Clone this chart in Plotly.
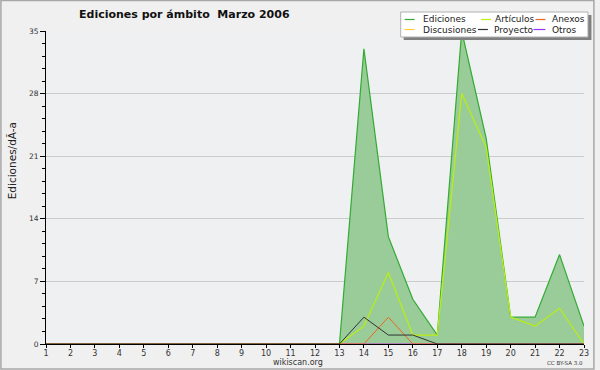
import plotly.graph_objects as go

days = list(range(1, 24))
ediciones   = [0]*12 + [0, 33, 12, 5, 1, 35, 23, 3, 3, 10, 2]
articulos   = [0]*12 + [0, 2, 8, 1, 1, 28, 22, 3, 2, 4, 0]
anexos      = [0]*12 + [0, 0, 3, 0, 0, 0, 0, 0, 0, 0, 0]
discusiones = [0]*23
proyecto    = [0]*12 + [0, 3, 1, 1, 0, 0, 0, 0, 0, 0, 0]
otros       = [0]*23

y_ticks = [0, 7, 14, 21, 28, 35]

names = ["Ediciones", "Artículos", "Anexos", "Discusiones", "Proyecto", "Otros"]
colors = {"Ediciones": "#33aa33", "Artículos": "#bbee11", "Anexos": "#ee6622",
          "Discusiones": "#ffcc33", "Proyecto": "#333333", "Otros": "#9933ff"}

W, H = 600, 370
L, R, T, B = 46, 11, 31, 26
PW, PH = W - L - R, H - T - B

def px(x):
    return (x - L) / PW

def py(y):
    return (H - B - y) / PH

FONT = "DejaVu Sans"

fig = go.Figure()
fig.add_trace(go.Scatter(x=days, y=ediciones, name="Ediciones", mode="lines",
                         fill="tozeroy", fillcolor="#99cc99",
                         line=dict(color=colors["Ediciones"], width=1.2)))
fig.add_trace(go.Scatter(x=days, y=discusiones, name="Discusiones", mode="lines",
                         line=dict(color=colors["Discusiones"], width=1)))
fig.add_trace(go.Scatter(x=days, y=otros, name="Otros", mode="lines",
                         line=dict(color=colors["Otros"], width=1)))
fig.add_trace(go.Scatter(x=days, y=articulos, name="Artículos", mode="lines",
                         line=dict(color=colors["Artículos"], width=1.2)))
fig.add_trace(go.Scatter(x=days, y=anexos, name="Anexos", mode="lines",
                         line=dict(color=colors["Anexos"], width=1)))
fig.add_trace(go.Scatter(x=days, y=proyecto, name="Proyecto", mode="lines",
                         line=dict(color=colors["Proyecto"], width=1)))

shapes = []
annotations = []

# outer border
shapes.append(dict(type="rect", xref="paper", yref="paper",
                   x0=px(0.5), x1=px(599), y0=py(369), y1=py(0.5),
                   line=dict(color="#a8a8a8", width=1.5), fillcolor="rgba(0,0,0,0)", layer="above"))

# legend box with shadow
shapes.append(dict(type="rect", xref="paper", yref="paper",
                   x0=px(407), x1=px(596.5), y0=py(40), y1=py(15),
                   line=dict(width=0), fillcolor="#808080", layer="above"))
shapes.append(dict(type="rect", xref="paper", yref="paper",
                   x0=px(404), x1=px(593), y0=py(37), y1=py(12),
                   line=dict(color="#b0b0b0", width=1), fillcolor="#ffffff", layer="above"))

legend_layout = [
    ("Ediciones", 408, 418, 424, 19.5),
    ("Artículos", 485, 495, 497, 19.5),
    ("Anexos", 540, 550, 555, 19.5),
    ("Discusiones", 408, 418, 424, 29.5),
    ("Proyecto", 482, 492, 496, 29.5),
    ("Otros", 538, 550, 555, 29.5),
]
for name, lx0, lx1, tx, yy in legend_layout:
    shapes.append(dict(type="line", xref="paper", yref="paper",
                       x0=px(lx0), x1=px(lx1), y0=py(yy), y1=py(yy),
                       line=dict(color=colors[name], width=1.2), layer="above"))
    annotations.append(dict(text=name, xref="paper", yref="paper", x=px(tx), y=py(yy),
                            xanchor="left", yanchor="middle", showarrow=False,
                            font=dict(family=FONT, size=9, color="#222222")))

# title
annotations.append(dict(text="<b>Ediciones por ámbito  Marzo 2006</b>", xref="paper", yref="paper",
                        x=px(186), y=py(14), xanchor="center", yanchor="middle", showarrow=False,
                        font=dict(family=FONT, size=11, color="#111111")))
# y axis title
annotations.append(dict(text="Ediciones/dÃ-a", xref="paper", yref="paper",
                        x=px(12), y=py(161), xanchor="center", yanchor="middle", showarrow=False,
                        textangle=-90, font=dict(family=FONT, size=10.5, color="#222222")))
# footer texts
annotations.append(dict(text="wikiscan.org", xref="paper", yref="paper",
                        x=px(300), y=py(362), xanchor="center", yanchor="middle", showarrow=False,
                        font=dict(family=FONT, size=8, color="#333333")))
annotations.append(dict(text="CC BY-SA 3.0", xref="paper", yref="paper",
                        x=px(570), y=py(362.5), xanchor="center", yanchor="middle", showarrow=False,
                        font=dict(family=FONT, size=5.5, color="#333333")))

fig.update_layout(
    width=W, height=H,
    margin=dict(l=L, r=R, t=T, b=B, pad=0),
    paper_bgcolor="#f0f0f0",
    plot_bgcolor="#eff0f2",
    showlegend=False,
    shapes=shapes,
    annotations=annotations,
    font=dict(family=FONT, size=8, color="#333333"),
)
fig.update_xaxes(range=[1, 23], tickmode="array", tickvals=days, ticktext=[str(d) for d in days],
                 showgrid=False, zeroline=False, showline=True, linecolor="#000000", linewidth=1,
                 ticks="outside", ticklen=3, tickcolor="#000000", ticklabelstandoff=-2,
                 tickfont=dict(family=FONT, size=8, color="#333333"), fixedrange=True)
fig.update_yaxes(range=[0, 35], tickmode="array", tickvals=y_ticks, ticktext=[str(v) for v in y_ticks],
                 showgrid=True, gridcolor="#cccccc", gridwidth=1, zeroline=False,
                 showline=True, linecolor="#000000", linewidth=1,
                 ticks="outside", ticklen=5, tickcolor="#000000",
                 minor=dict(dtick=1.4, tick0=0, ticks="outside", ticklen=3, tickcolor="#000000", showgrid=False),
                 tickfont=dict(family=FONT, size=7.5, color="#333333"), fixedrange=True)

fig.write_html("out.html", config={"displayModeBar": False},
               post_script="document.body.style.margin='0';document.body.style.overflow='hidden';")
